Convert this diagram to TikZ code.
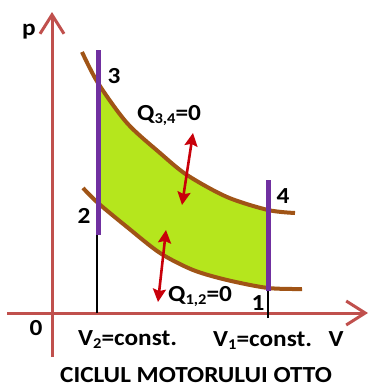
\documentclass[tikz,border=0pt]{standalone}
\usepackage{fontspec}
\setmainfont{Carlito}[FakeStretch=1.1]
\usetikzlibrary{arrows.meta}
\definecolor{axisred}{RGB}{192,80,77}
\definecolor{cyclepurple}{RGB}{112,48,160}
\definecolor{curvebrown}{RGB}{160,84,22}
\definecolor{workgreen}{RGB}{181,230,29}
\definecolor{heatred}{RGB}{200,0,10}
\newcommand{\sbs}[1]{\raisebox{-3.5pt}{\fontsize{15}{15}\selectfont #1}}
\tikzset{
  axisline/.style={draw=axisred, line width=3pt, -{Straight Barb[length=19pt,width=24pt,line width=3pt]}},
  isochore/.style={draw=cyclepurple, line width=5pt},
  adiabat/.style={draw=curvebrown, line width=4pt},
  heatarrow/.style={draw=heatred, line width=2.6pt, {Stealth[length=13pt,width=13pt,inset=2pt]}-{Stealth[length=13pt,width=13pt,inset=2pt]}},
  guide/.style={draw=black, line width=1.3pt},
  lbl/.style={font=\fontsize{23}{23}\selectfont\bfseries, text=black, inner sep=0pt, anchor=base},
}
\begin{document}
\begin{tikzpicture}[x=1pt,y=-1pt]
\useasboundingbox (0,0) rectangle (369,388);
% green work area
\begin{scope}
\clip (98,0) rectangle (268,388);
\fill[workgreen] plot[smooth] coordinates {(82,52) (98,83) (127,123) (160,153) (187,175) (227,197) (268,210) (295,213)}
  -- plot[smooth] coordinates {(302,289) (268,288) (227,280) (193,270) (160,253) (127,227) (98,203) (83,188)} -- cycle;
\end{scope}
% axes
\coordinate (yb) at (52,357);
\coordinate (yt) at (52,12);
\coordinate (xl) at (7,313);
\coordinate (xr) at (368,313);
\draw[axisline] (yb) -- (yt);
\draw[axisline] (xl) -- (xr);
% guide lines
\coordinate (v2a) at (97,313);
\coordinate (v2b) at (97,232);
\coordinate (v1a) at (268,318);
\coordinate (v1b) at (268,290);
\draw[guide] (v2a) -- (v2b);
\draw[guide] (v1a) -- (v1b);
% adiabats
\draw[adiabat] plot[smooth] coordinates {(82,52) (98,83) (127,123) (160,153) (187,175) (227,197) (268,210) (295,213)};
\draw[adiabat] plot[smooth] coordinates {(83,188) (98,203) (127,227) (160,253) (193,270) (227,280) (268,288) (302,289)};
% isochores
\coordinate (i2b) at (98,235);
\coordinate (i2t) at (98,50);
\coordinate (i1b) at (268,291);
\coordinate (i1t) at (268,180);
\draw[isochore] (i2b) -- (i2t);
\draw[isochore] (i1b) -- (i1t);
% heat arrows
\coordinate (h34a) at (193,133);
\coordinate (h34b) at (182,205);
\coordinate (h12a) at (166,230);
\coordinate (h12b) at (158,302);
\draw[heatarrow] (h34a) -- (h34b);
\draw[heatarrow] (h12a) -- (h12b);
% labels
\node[lbl] (lp) at (29,35) {p};
\node[lbl] (l0) at (36,335) {0};
\node[lbl] (l3) at (114,83) {3};
\node[lbl] (l4) at (283,203) {4};
\node[lbl] (l2) at (84,223) {2};
\node[lbl] (l1) at (258,310) {1};
\node[lbl, anchor=base west] (q34) at (137,120) {Q\sbs{3,4}=0};
\node[lbl, anchor=base west] (q12) at (168,301) {Q\sbs{1,2}=0};
\node[lbl, anchor=base west] (lv2) at (78,345) {V\sbs{2}=const.};
\node[lbl, anchor=base west] (lv1) at (213,346) {V\sbs{1}=const.};
\node[lbl] (lv) at (336,346) {V};
\node[lbl] (title) at (196,382) {CICLUL MOTORULUI OTTO};
\end{tikzpicture}
\end{document}
